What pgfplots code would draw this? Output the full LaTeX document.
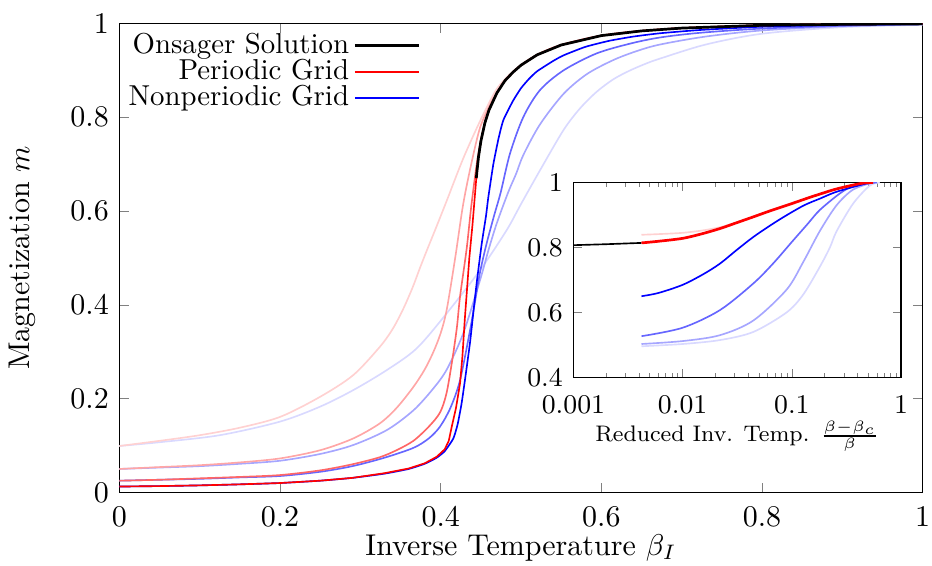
\documentclass[border=0pt]{standalone}
\usepackage{pgfplots}
\pgfplotsset{compat=1.18}
\begin{document}
\begin{tikzpicture}
\useasboundingbox (-39.8pt,-24.2pt) rectangle (270.8pt,164.1pt);
\begin{axis}[
  at={(0pt,0pt)}, anchor=south west,
  scale only axis, width=267.7pt, height=156.3pt,
  xmin=0, xmax=1, ymin=0, ymax=1,
  xtick={0,0.2,0.4,0.6,0.8,1}, ytick={0,0.2,0.4,0.6,0.8,1},
  major tick length=3.3pt,
  xticklabel style={yshift=-1.5pt},
  xlabel={Inverse Temperature $\beta_I$},
  ylabel={Magnetization $m$},
  xlabel style={at={(axis description cs:0.5,-0.118)}, anchor=center},
  ylabel style={at={(axis description cs:-0.121,0.5)}, anchor=center},
  legend style={at={(axis cs:0.005,0.99)}, anchor=north west, draw=none, fill=none,
    inner sep=0pt, row sep=-2.6pt, nodes={inner sep=1.5pt}, font=\fontsize{9.6}{11}\selectfont},
  legend cell align=right,
  legend plot pos=right,
  legend image code/.code={\draw[#1] (0pt,0pt) -- (21.5pt,0pt);},
  every axis plot/.append style={line width=0.55pt},
]
\addlegendimage{draw=black, line width=0.85pt}
\addlegendentry{Onsager Solution}
\addlegendimage{draw=red, line width=0.65pt}
\addlegendentry{Periodic Grid}
\addlegendimage{draw=blue, line width=0.65pt}
\addlegendentry{Nonperiodic Grid}

% N10
\addplot[blue!15, smooth, tension=0.5, forget plot] coordinates {(0,0.099) (0.05,0.107) (0.125,0.122) (0.2,0.151) (0.25,0.183) (0.291,0.218) (0.333,0.261) (0.37,0.307) (0.4075,0.382) (0.449,0.474) (0.482,0.559) (0.5,0.615) (0.524,0.688) (0.553,0.773) (0.5735,0.819) (0.594,0.854) (0.615,0.881) (0.636,0.900) (0.6565,0.915) (0.673,0.925) (0.73,0.955) (0.8,0.978) (0.9,0.992) (1.0,0.997)};
% P10
\addplot[red!18, smooth, tension=0.5, forget plot] coordinates {(0,0.099) (0.05,0.11) (0.1,0.122) (0.15,0.138) (0.2,0.161) (0.25,0.204) (0.291,0.25) (0.324,0.31) (0.34,0.348) (0.353,0.39) (0.365,0.437) (0.374,0.478) (0.3825,0.515) (0.395,0.568) (0.4075,0.622) (0.428,0.712) (0.449,0.792) (0.4655,0.848) (0.474,0.870) (0.49,0.898) (0.5,0.911) (0.52,0.933) (0.55,0.954) (0.6,0.974) (0.65,0.984) (0.7,0.990) (0.8,0.996) (0.9,0.998) (1.0,0.999)};
% N20
\addplot[blue!35, smooth, tension=0.5, forget plot] coordinates {(0,0.05) (0.05,0.053) (0.1,0.056) (0.15,0.061) (0.2,0.0675) (0.25,0.082) (0.291,0.101) (0.333,0.133) (0.366,0.175) (0.39,0.22) (0.4075,0.262) (0.428,0.339) (0.449,0.453) (0.46,0.52) (0.47,0.575) (0.484,0.64) (0.494,0.68) (0.503,0.72) (0.5237,0.785) (0.553,0.850) (0.582,0.892) (0.615,0.922) (0.644,0.941) (0.673,0.955) (0.73,0.972) (0.8,0.985) (0.9,0.994) (1.0,0.998)};
% P20
\addplot[red!35, smooth, tension=0.5, forget plot] coordinates {(0,0.05) (0.05,0.054) (0.1,0.058) (0.15,0.064) (0.2,0.0725) (0.25,0.090) (0.291,0.115) (0.324,0.147) (0.345,0.18) (0.366,0.225) (0.38,0.262) (0.391,0.30) (0.4,0.34) (0.4075,0.39) (0.418,0.50) (0.428,0.615) (0.4386,0.705) (0.449,0.778) (0.4614,0.827) (0.47,0.853) (0.48,0.878) (0.49,0.896) (0.5,0.911) (0.52,0.933) (0.55,0.954) (0.6,0.974) (0.65,0.984) (0.7,0.990) (0.8,0.996) (0.9,0.998) (1.0,0.999)};
% N40
\addplot[blue!60, smooth, tension=0.5, forget plot] coordinates {(0,0.025) (0.05,0.027) (0.1,0.029) (0.15,0.032) (0.2,0.035) (0.25,0.044) (0.29,0.056) (0.33,0.074) (0.366,0.095) (0.385,0.115) (0.399,0.140) (0.412,0.18) (0.424,0.239) (0.4365,0.346) (0.443,0.41) (0.449,0.47) (0.457,0.53) (0.4664,0.59) (0.4747,0.64) (0.4863,0.723) (0.503,0.801) (0.5237,0.858) (0.553,0.900) (0.594,0.936) (0.636,0.957) (0.673,0.970) (0.723,0.980) (0.8,0.989) (0.9,0.995) (1,0.998)};
% P40
\addplot[red!60, smooth, tension=0.5, forget plot] coordinates {(0,0.025) (0.05,0.027) (0.1,0.030) (0.15,0.033) (0.2,0.037) (0.25,0.047) (0.29,0.060) (0.324,0.075) (0.345,0.09) (0.366,0.11) (0.385,0.14) (0.399,0.17) (0.407,0.21) (0.4137,0.275) (0.42,0.35) (0.424,0.417) (0.4323,0.52) (0.438,0.61) (0.4448,0.70) (0.45,0.752) (0.455,0.789) (0.46,0.815) (0.47,0.852) (0.48,0.878) (0.49,0.896) (0.5,0.911) (0.52,0.933) (0.55,0.954) (0.6,0.974) (0.65,0.984) (0.7,0.990) (0.8,0.996) (0.9,0.998) (1.0,0.999)};
% N80
\addplot[blue, smooth, tension=0.3, forget plot] coordinates {(0,0.0125) (0.05,0.0135) (0.1,0.015) (0.15,0.0172) (0.2,0.020) (0.25,0.025) (0.29,0.031) (0.33,0.040) (0.36,0.050) (0.38,0.061) (0.395,0.074) (0.405,0.088) (0.4157,0.115) (0.421,0.145) (0.426,0.19) (0.431,0.25) (0.4365,0.32) (0.441,0.39) (0.445,0.45) (0.451,0.53) (0.4564,0.59) (0.4593,0.63) (0.4655,0.70) (0.472,0.755) (0.478,0.794) (0.49,0.835) (0.5,0.862) (0.51,0.882) (0.52,0.898) (0.54,0.920) (0.553,0.932) (0.58,0.950) (0.61,0.963) (0.64,0.972) (0.673,0.979) (0.723,0.986) (0.8,0.993) (0.9,0.997) (1.0,0.999)};
% P80
\addplot[red, forget plot] coordinates {(0,0.0125) (0.05,0.0135) (0.1,0.015) (0.15,0.0172) (0.2,0.020) (0.25,0.025) (0.29,0.031) (0.33,0.041) (0.36,0.051) (0.38,0.062) (0.395,0.076) (0.405,0.092) (0.41,0.11) (0.4137,0.14) (0.419,0.18) (0.424,0.232) (0.427,0.29) (0.430,0.37) (0.4356,0.50) (0.4395,0.57) (0.4443,0.670) (0.445,0.683) (0.447,0.715) (0.45,0.749) (0.455,0.788) (0.46,0.815) (0.47,0.852) (0.48,0.878) (0.49,0.896) (0.5,0.911) (0.52,0.933) (0.55,0.954) (0.6,0.974) (0.65,0.984) (0.7,0.990) (0.8,0.996) (0.9,0.998) (1.0,0.999)};
% Onsager
\addplot[black, line width=0.9pt, forget plot] coordinates {(0.4443,0.670) (0.445,0.683) (0.447,0.715) (0.45,0.749) (0.455,0.788) (0.46,0.815) (0.47,0.852) (0.48,0.878) (0.49,0.896) (0.5,0.911) (0.52,0.933) (0.55,0.954) (0.6,0.974) (0.65,0.984) (0.7,0.990) (0.8,0.996) (0.9,0.998) (1.0,0.999)};
\end{axis}

\begin{axis}[
  at={(151.3pt,38.3pt)}, anchor=south west,
  scale only axis, width=109.2pt, height=65pt,
  xmode=log, xmin=0.001, xmax=1, ymin=0.4, ymax=1,
  xtick={0.001,0.01,0.1,1}, xticklabels={0.001,0.01,0.1,1},
  ytick={0.4,0.6,0.8,1}, yticklabels={0.4,0.6,0.8,1},
  major tick length=2.7pt, minor tick length=1.6pt,
  ticklabel style={font=\fontsize{9}{10}\selectfont},
  xticklabel style={yshift=-2.5pt},
  xlabel={Reduced Inv. Temp. $\frac{\beta-\beta_c}{\beta}$},
  xlabel style={font=\fontsize{7.5}{9}\selectfont, at={(axis description cs:0.5,-0.30)}, anchor=center},
  axis background/.style={fill=white},
  every axis plot/.append style={line width=0.55pt},
]
\addplot[black] coordinates {(0.001,0.807) (0.002,0.810) (0.0042,0.814)};
\addplot[blue!15, smooth, tension=0.5] coordinates {(0.0042,0.496) (0.01,0.503) (0.0219,0.515) (0.0443,0.54) (0.0894,0.60) (0.127,0.655) (0.18,0.74) (0.223,0.80) (0.257,0.85) (0.364,0.935) (0.516,0.99) (0.638,1.0)};
\addplot[blue!35, smooth, tension=0.5] coordinates {(0.0042,0.503) (0.01,0.512) (0.0219,0.53) (0.0443,0.575) (0.0894,0.67) (0.127,0.755) (0.18,0.85) (0.257,0.93) (0.364,0.978) (0.555,1.0)};
\addplot[blue!60, smooth, tension=0.5] coordinates {(0.0042,0.527) (0.01,0.553) (0.0219,0.607) (0.0443,0.689) (0.0675,0.751) (0.1,0.817) (0.14,0.873) (0.18,0.915) (0.275,0.966) (0.364,0.988) (0.6,1.0)};
\addplot[blue, smooth, tension=0.5] coordinates {(0.0042,0.650) (0.006,0.660) (0.01,0.685) (0.0155,0.718) (0.0219,0.750) (0.0312,0.792) (0.0443,0.832) (0.065,0.870) (0.0894,0.899) (0.13,0.930) (0.18,0.950) (0.25,0.970) (0.364,0.986) (0.516,1.0)};
\addplot[red!18, smooth, tension=0.5] coordinates {(0.0042,0.839) (0.006,0.841) (0.01,0.845) (0.015,0.852) (0.0219,0.862) (0.03,0.875) (0.0443,0.894) (0.065,0.914) (0.1,0.935) (0.14,0.952) (0.18,0.964) (0.25,0.979) (0.364,0.992) (0.45,0.998) (0.555,1.0)};
\addplot[red, line width=0.9pt, smooth, tension=0.5] coordinates {(0.0042,0.814) (0.006,0.819) (0.01,0.828) (0.015,0.842) (0.0219,0.858) (0.03,0.874) (0.0443,0.894) (0.065,0.914) (0.1,0.935) (0.14,0.952) (0.18,0.964) (0.25,0.979) (0.364,0.992) (0.45,0.998) (0.555,1.0)};
\end{axis}
\end{tikzpicture}
\end{document}
